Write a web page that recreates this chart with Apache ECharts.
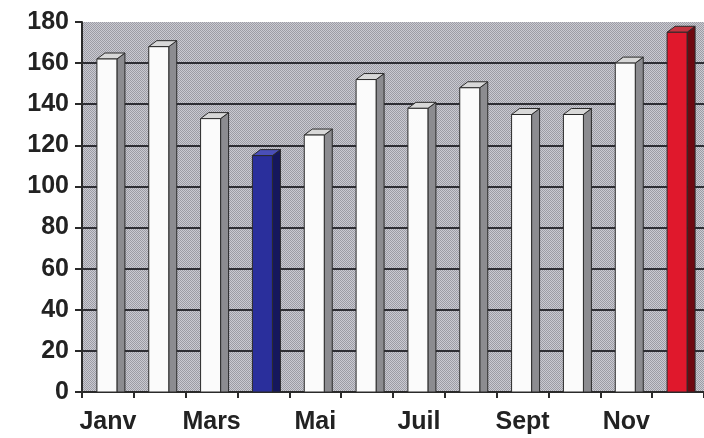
<!DOCTYPE html>
<html>
<head>
<meta charset="utf-8">
<script src="https://cdn.jsdelivr.net/npm/echarts@6/dist/echarts.min.js"></script>
<style>
html, body { margin: 0; padding: 0; background: #fff; }
#chart { width: 704px; height: 438px; }
</style>
</head>
<body>
<div id="chart"></div>
<script>
// donnees du graphique
var mois = ['Janv', 'Févr', 'Mars', 'Avr', 'Mai', 'Juin', 'Juil', 'Août', 'Sept', 'Oct', 'Nov', 'Déc'];
var valeurs = [162, 168, 133, 115, 125, 152, 138, 148, 135, 135, 160, 175];
var graduations = [0, 20, 40, 60, 80, 100, 120, 140, 160, 180];

// couleurs des faces (avant, cote, dessus)
var faces = {
	normal: ['#fbfbfb', '#8c8c90', '#d8d8d8'],
	Avr: ['#2a2f9c', '#15175c', '#4a4fb8'],
	'Déc': ['#e0182c', '#6e0810', '#c23440']
};

// fond pointille de la zone de trace
function trame() {
	var c = document.createElement('canvas');
	c.width = 2; c.height = 2;
	var ctx = c.getContext('2d');
	ctx.fillStyle = '#cacad2'; ctx.fillRect(0, 0, 2, 2);
	ctx.fillStyle = '#9c9ca4'; ctx.fillRect(0, 0, 1, 1); ctx.fillRect(1, 1, 1, 1);
	return { image: c, repeat: 'repeat' };
}

function barre3d(params, api) {
	var i = api.value(0);
	var haut = api.coord([i, api.value(1)]);
	var bas = api.coord([i, 0]);
	var cx = haut[0], ty = haut[1], by = bas[1];
	var x0 = cx - 11, x1 = cx + 9, dx = 8, dy = 6;
	var f = faces[mois[i]] || faces.normal;
	var trait = { stroke: '#2a2a2a', lineWidth: 1 };
	return {
		type: 'group',
		children: [
			{ type: 'polygon', shape: { points: [[x1, ty], [x1 + dx, ty - dy], [x1 + dx, by], [x1, by]] },
				style: Object.assign({ fill: f[1] }, trait) },
			{ type: 'polygon', shape: { points: [[x0, ty], [x0 + dx, ty - dy], [x1 + dx, ty - dy], [x1, ty]] },
				style: Object.assign({ fill: f[2] }, trait) },
			{ type: 'rect', shape: { x: x0, y: ty, width: x1 - x0, height: by - ty },
				style: Object.assign({ fill: f[0] }, trait) }
		]
	};
}

var myChart = echarts.init(document.getElementById('chart'));
myChart.setOption({
	animation: false,
	backgroundColor: '#fff',
	grid: { left: 82, right: -8, top: 22, bottom: 46, show: true, backgroundColor: trame(), borderWidth: 0 },
	xAxis: {
		type: 'category',
		data: mois,
		boundaryGap: true,
		axisLine: { lineStyle: { color: '#2a2a2a', width: 2 } },
		axisTick: { show: true, interval: 0, length: 6, lineStyle: { color: '#2a2a2a', width: 2 } },
		axisLabel: { interval: 1, color: '#222', fontSize: 25, fontWeight: 'bold', fontFamily: 'Liberation Sans', margin: 18 },
		splitLine: { show: false }
	},
	yAxis: {
		type: 'value',
		min: graduations[0],
		max: graduations[graduations.length - 1],
		interval: graduations[1] - graduations[0],
		axisLine: { show: true, lineStyle: { color: '#2a2a2a', width: 2 } },
		axisTick: { show: true, length: 7, lineStyle: { color: '#2a2a2a', width: 2 } },
		axisLabel: { color: '#222', fontSize: 25, fontWeight: 'bold', fontFamily: 'Liberation Sans', margin: 13 },
		splitLine: { show: true, showMaxLine: false, lineStyle: { color: '#2e2e34', width: 2 } }
	},
	series: [{
		type: 'custom',
		renderItem: barre3d,
		encode: { x: 0, y: 1 },
		data: valeurs.map(function (v, i) { return [i, v]; })
	}]
});
</script>
</body>
</html>
